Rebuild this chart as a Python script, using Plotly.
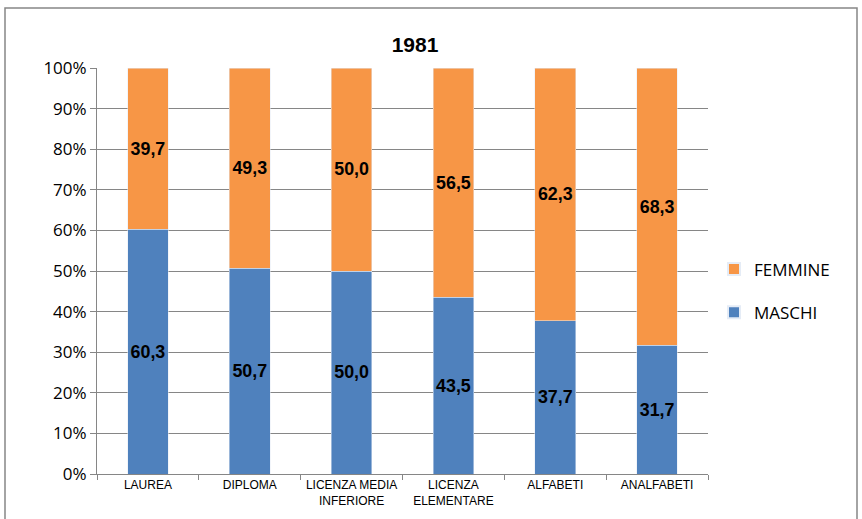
import plotly.graph_objects as go

categories = ["LAUREA", "DIPLOMA", "LICENZA MEDIA<br>INFERIORE", "LICENZA<br>ELEMENTARE", "ALFABETI", "ANALFABETI"]
maschi = [60.3, 50.7, 50.0, 43.5, 37.7, 31.7]
femmine = [39.7, 49.3, 50.0, 56.5, 62.3, 68.3]

def fmt(v):
    return f"{v:.1f}".replace(".", ",")

label_font = dict(family="Liberation Sans", size=18, color="black", weight="bold")

fig = go.Figure()
fig.add_trace(go.Bar(
    x=categories, y=maschi, name="MASCHI", marker_color="#4F81BD",
    text=[fmt(v) for v in maschi], textposition="inside", insidetextanchor="middle",
    textangle=0, textfont=label_font, width=0.4, legendgroup="m", legendrank=2,
))
fig.add_trace(go.Bar(
    x=categories, y=femmine, name="FEMMINE", marker_color="#F79646",
    text=[fmt(v) for v in femmine], textposition="inside", insidetextanchor="middle",
    textangle=0, textfont=label_font, width=0.4, legendgroup="f", legendrank=1,
))

L, R, T, B = 97, 154, 68, 45
W, H = 862 - L - R, 519 - T - B

fig.update_layout(
    width=862, height=519, barmode="stack",
    margin=dict(l=L, r=R, t=T, b=B),
    paper_bgcolor="white", plot_bgcolor="white",
    title=dict(text="<b>1981</b>", x=415 / 862, xanchor="center", y=1 - 45 / 519, yanchor="middle",
               font=dict(family="Liberation Sans Narrow, Liberation Sans", size=21, color="black")),
    legend=dict(x=(714 - L) / W, y=1 - (291 - T) / H, xanchor="left", yanchor="middle",
                font=dict(family="Open Sans", size=17, color="black"),
                traceorder="grouped", itemsizing="constant", tracegroupgap=18,
                itemwidth=30),
    uniformtext=dict(mode="show", minsize=10),
    showlegend=True,
)
fig.update_xaxes(
    showline=True, linecolor="#868686", linewidth=1,
    ticks="outside", tickcolor="#868686", ticklen=5, tickson="boundaries",
    tickfont=dict(family="Liberation Sans Narrow, Liberation Sans", size=12, color="black"),
    showgrid=False,
)
fig.update_yaxes(
    range=[0, 100], dtick=10, ticksuffix="%",
    showline=True, linecolor="#868686", linewidth=1,
    ticks="outside", tickcolor="#868686", ticklen=6,
    showgrid=True, gridcolor="#868686", gridwidth=1,
    tickfont=dict(family="Open Sans", size=17, color="black"),
    zeroline=False,
)
fig.add_shape(type="rect", xref="paper", yref="paper",
              x0=(5 - L) / W, x1=(857 - L) / W, y0=-0.3, y1=1 + (T - 8) / H,
              line=dict(color="#868686", width=1.5), fillcolor="rgba(0,0,0,0)", layer="below")
fig.write_html("out.html")
